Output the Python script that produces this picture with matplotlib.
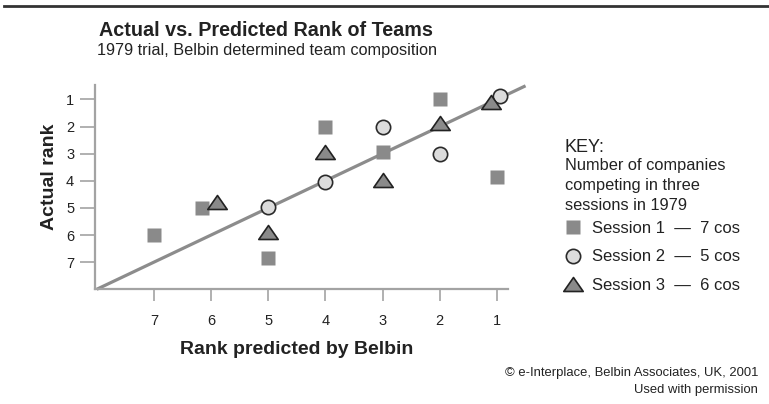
import matplotlib
matplotlib.use("Agg")
import matplotlib.pyplot as plt
from matplotlib.path import Path
from matplotlib.lines import Line2D

plt.rcParams['font.family'] = ['Liberation Sans', 'DejaVu Sans']

# ---- data ----
ranks = [1, 2, 3, 4, 5, 6, 7]
s1_pred = [7, 6.15, 5, 4, 3, 2, 1]
s1_actual = [6, 5, 6.85, 2, 2.95, 1, 3.85]
s2_pred = [5, 4, 3, 2, 0.95]
s2_actual = [4.95, 4.05, 2, 3, 0.88]
s3_pred = [5.9, 5, 4, 3, 2, 1.1]
s3_actual = [4.77, 5.9, 2.95, 3.97, 1.86, 1.09]
line_pred = [8, 0.5]
line_actual = [8, 0.5]
labels = ["Session 1  \u2014  7 cos", "Session 2  \u2014  5 cos", "Session 3  \u2014  6 cos"]

W, H = 769, 404
fig = plt.figure(figsize=(W / 100, H / 100), dpi=100)

x0, x1 = 95, 508.4
ytop, ybot = 85, 289.3
ax = fig.add_axes([x0 / W, 1 - ybot / H, (x1 - x0) / W, (ybot - ytop) / H])
ax.set_xlim(8.03, 0.8)
ax.set_ylim(8.0, 0.47)

axis_col = '#a3a3a3'
for s in ['top', 'right']:
    ax.spines[s].set_visible(False)
for s in ['left', 'bottom']:
    ax.spines[s].set_color(axis_col)
    ax.spines[s].set_linewidth(1.6)

ax.set_xticks(ranks)
ax.set_yticks(ranks)
ax.tick_params(axis='x', length=8.5, width=1.2, color=axis_col, pad=9, labelsize=10.5, labelcolor='#222222')
ax.tick_params(axis='y', length=11, width=1.2, color=axis_col, pad=4, labelsize=10.5, labelcolor='#222222')

ax.plot(line_pred, line_actual, color='#8c8c8c', lw=2.3, clip_on=False, zorder=1, solid_capstyle='butt')

tri = Path([(-1, -0.72), (1, -0.72), (0, 0.72), (-1, -0.72)],
           [Path.MOVETO, Path.LINETO, Path.LINETO, Path.CLOSEPOLY])

ax.plot(s1_pred, s1_actual, ls='none', marker='s', ms=9.6, mfc='#8a8a8a', mec='none', clip_on=False, zorder=3)
ax.plot(s2_pred, s2_actual, ls='none', marker='o', ms=10.3, mfc='#dcdcdc', mec='#2a2a2a', mew=1.2, clip_on=False, zorder=3)
ax.plot(s3_pred, s3_actual, ls='none', marker=tri, ms=14, mfc='#8a8a8a', mec='#222222', mew=1.2, clip_on=False, zorder=4)

ax.set_xlabel('Rank predicted by Belbin', fontsize=14, fontweight='bold', color='#222222')
ax.set_ylabel('Actual rank', fontsize=14, fontweight='bold', color='#222222')
ax.xaxis.set_label_coords((297 - x0) / (x1 - x0), (ybot - 349) / (ybot - ytop))
ax.yaxis.set_label_coords((50 - x0) / (x1 - x0), (ybot - 177) / (ybot - ytop))
ax.xaxis.label.set_va('center')
ax.yaxis.label.set_va('center')

# top rule
fig.add_artist(Line2D([4 / W, 1], [1 - 6 / H, 1 - 6 / H], color='#333333', lw=2))

fig.text(266 / W, 1 - 31 / H, 'Actual vs. Predicted Rank of Teams', ha='center', va='center',
         fontsize=14.2, fontweight='bold', color='#222222')
fig.text(267 / W, 1 - 51 / H, '1979 trial, Belbin determined team composition', ha='center', va='center',
         fontsize=11.7, color='#222222')

fig.text(565 / W, 1 - 147 / H, 'KEY:', ha='left', va='center', fontsize=13, color='#222222')
fig.text(565 / W, 1 - 158 / H, 'Number of companies\ncompeting in three\nsessions in 1979', ha='left', va='top',
         fontsize=11.8, color='#222222', linespacing=1.4)

handles = [
    Line2D([], [], ls='none', marker='s', ms=9.6, mfc='#8a8a8a', mec='none'),
    Line2D([], [], ls='none', marker='o', ms=10.3, mfc='#dcdcdc', mec='#2a2a2a', mew=1.2),
    Line2D([], [], ls='none', marker=tri, ms=14, mfc='#8a8a8a', mec='#222222', mew=1.2),
]
leg = fig.legend(handles, labels, loc='upper left', bbox_to_anchor=(563 / W, 1 - 221 / H), frameon=False,
                 fontsize=12, labelspacing=0.8, handletextpad=0.55, handlelength=1.2, borderpad=0,
                 borderaxespad=0)
for t in leg.get_texts():
    t.set_color('#222222')

fig.text(758 / W, 1 - 373 / H, '\u00a9 e-Interplace, Belbin Associates, UK, 2001', ha='right', va='center',
         fontsize=9.4, color='#222222')
fig.text(758 / W, 1 - 390 / H, 'Used with permission', ha='right', va='center', fontsize=9.4, color='#222222')

fig.savefig('out.png', dpi=100)
